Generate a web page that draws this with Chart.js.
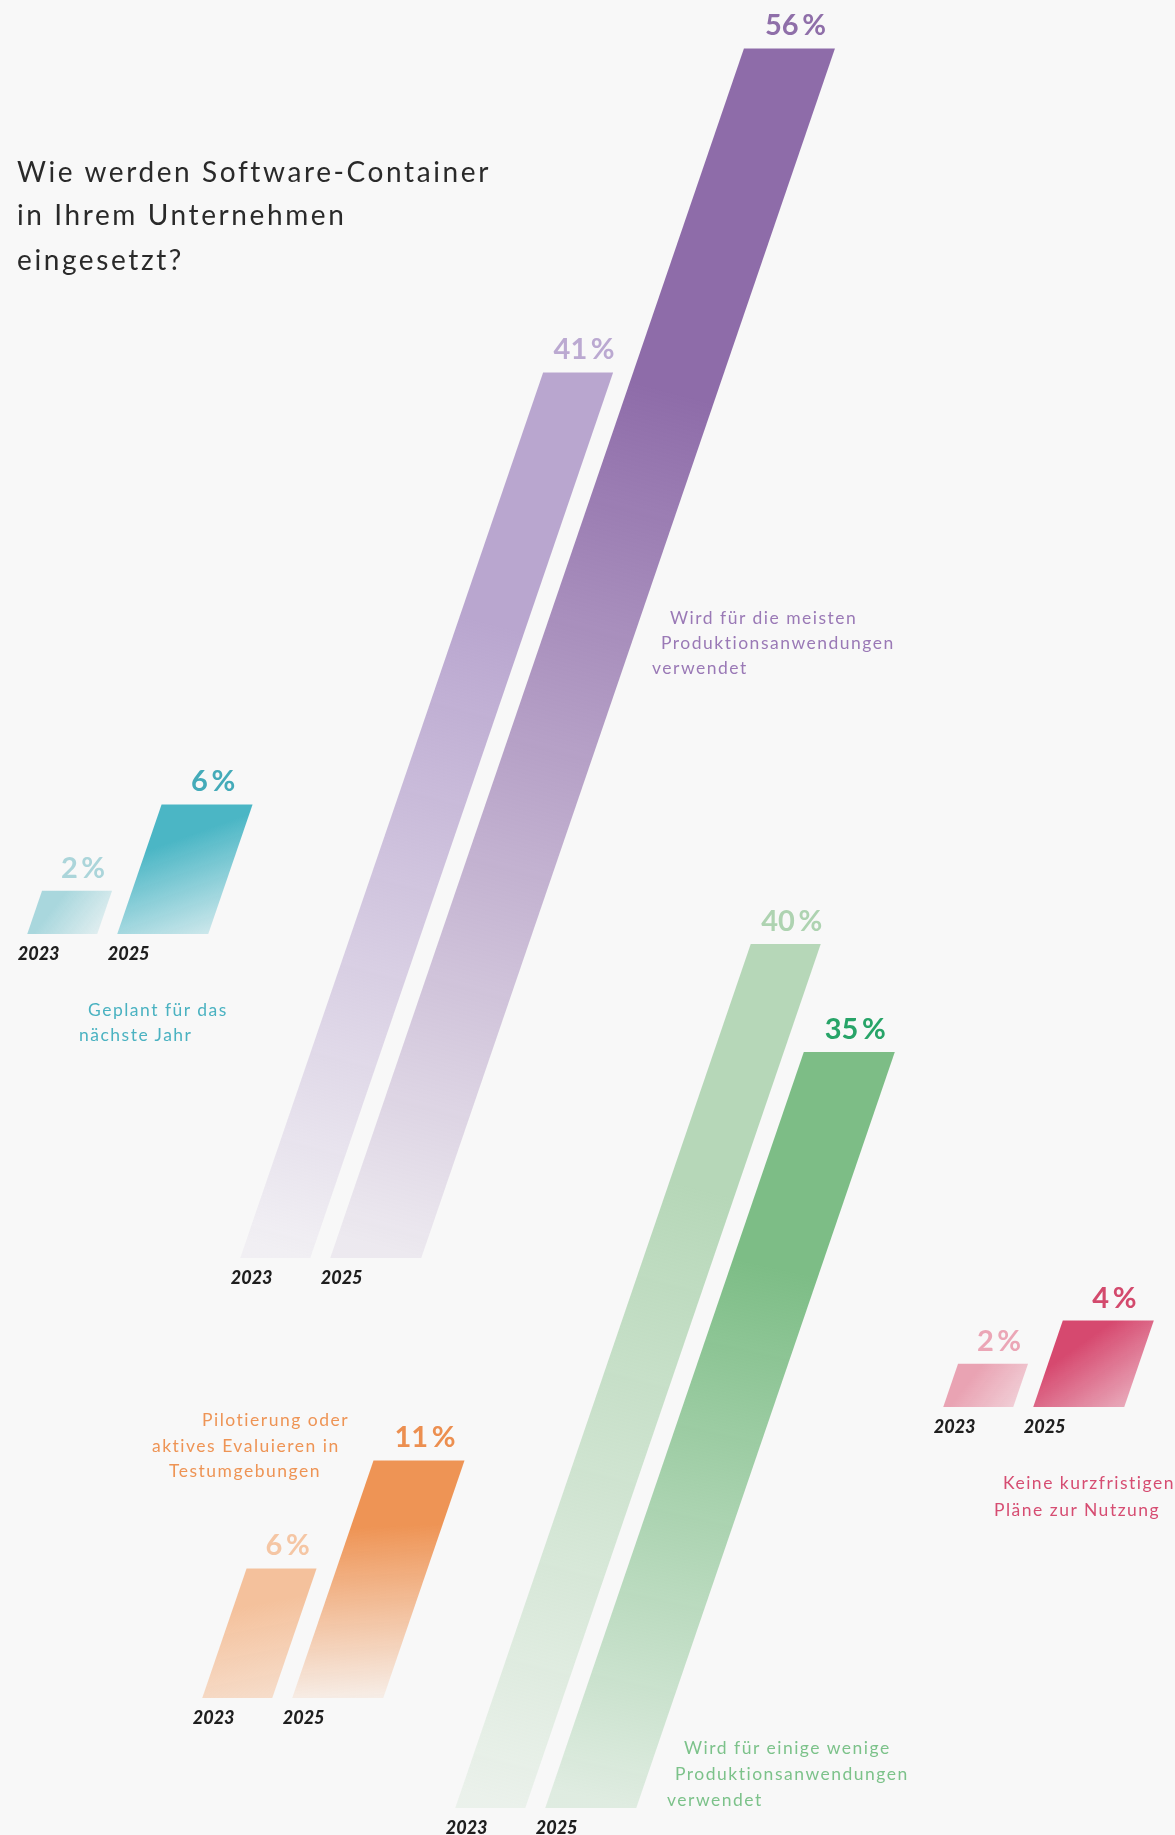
<!DOCTYPE html>
<html lang="de">
<head>
<meta charset="utf-8">
<title>Software-Container im Unternehmen</title>
<script src="https://cdn.jsdelivr.net/npm/chart.js@4.4.1/dist/chart.umd.min.js"></script>
<style>
  html, body { margin: 0; padding: 0; background: #f8f8f8; }
  #seite { position: relative; width: 1175px; height: 1835px; overflow: hidden; font-family: Lato, sans-serif; }
  #seite canvas { position: absolute; }
  .zeile { position: absolute; white-space: nowrap; line-height: 1; }
  .titel { font-size: 28px; letter-spacing: 2.6px; color: #2a2a2a; }
  .text { font-size: 17.5px; letter-spacing: 1.5px; }
</style>
</head>
<body>
<div id="seite"></div>
<script>
  'use strict';
  /*---------------------------------------------*\
       Données
  \*---------------------------------------------*/
  var titel = ['Wie werden Software-Container', 'in Ihrem Unternehmen', 'eingesetzt?'];
  var jahre = ['2023', '2025'];
  var gruppen = ['meisten', 'geplant', 'einige', 'keine', 'pilot'];
  var anteil2023 = [41, 2, 40, 2, 6];
  var anteil2025 = [56, 6, 35, 4, 11];
  var beschriftungen = [
    ['Wird für die meisten', 'Produktionsanwendungen', 'verwendet'],
    ['Geplant für das', 'nächste Jahr'],
    ['Wird für einige wenige', 'Produktionsanwendungen', 'verwendet'],
    ['Keine kurzfristigen', 'Pläne zur Nutzung'],
    ['Pilotierung oder', 'aktives Evaluieren in', 'Testumgebungen']
  ];

  /*---------------------------------------------*\
       Mise en forme
  \*---------------------------------------------*/
  var SCHRAEGE = 0.342;        // décalage horizontal par pixel de hauteur
  var PX_PRO_PROZENT = 21.6;
  var BREITEN = [70, 91];      // largeur des barres 2023 / 2025
  var BEREICH = 201;           // largeur de la zone pour les deux catégories
  var PAD = { top: 60, bottom: 40, left: 30 };

  // x0 = coin bas gauche de la barre 2023, basis = ligne de base
  var stil = {
    meisten: { x0: 240, basis: 1258, farbe: ['#b9a6cf', '#8e6ca9'], zahl: ['#bba9d1', '#8f6fa9'], text: '#9a79b6', fade: [0.1, 0.1],
      zeilen: [[670, 625], [661, 650], [652, 675]] },
    geplant: { x0: 27, basis: 934, farbe: ['#a9d7dd', '#4bb6c5'], zahl: ['#abd5da', '#44abb9'], text: '#4ab2c1', fade: [0.3, 0.25],
      zeilen: [[88, 1017], [79, 1042]] },
    einige: { x0: 455, basis: 1808, farbe: ['#b6d7b8', '#7dbd86'], zahl: ['#aed3b1', '#27a468'], text: '#7cc28a', fade: [0.2, 0.2],
      zeilen: [[684, 1755], [675, 1781], [667, 1807]] },
    keine: { x0: 943, basis: 1407, farbe: ['#e9a3b3', '#d6496f'], zahl: ['#eba6b6', '#d34a6d'], text: '#d64d72', fade: [0.5, 0.45],
      zeilen: [[1003, 1490], [994, 1517]] },
    pilot: { x0: 202, basis: 1698, farbe: ['#f4c19c', '#ee9455'], zahl: ['#f5c6a4', '#ec8f50'], text: '#ee9455', fade: [0.5, 0.1],
      zeilen: [[202, 1427], [152, 1453], [169, 1478]] }
  };

  function mitAlpha(hex, a) {
    var r = parseInt(hex.substr(1, 2), 16);
    var g = parseInt(hex.substr(3, 2), 16);
    var b = parseInt(hex.substr(5, 2), 16);
    return 'rgba(' + r + ',' + g + ',' + b + ',' + a + ')';
  }

  // Plugin : dessine chaque barre en parallélogramme incliné + étiquettes
  function parallelogramme(s) {
    return {
      id: 'parallelogramme',
      afterDatasetsDraw: function(chart) {
        var ctx = chart.ctx;
        var werte = chart.data.datasets[0].data;
        chart.getDatasetMeta(0).data.forEach(function(bar, i) {
          var b = bar.getProps(['x', 'y', 'base'], true);
          var w = BREITEN[i];
          var links = b.x - w / 2;
          var versatz = (b.base - b.y) * SCHRAEGE;
          var grad = ctx.createLinearGradient(links + versatz, b.y, links + w, b.base);
          grad.addColorStop(0, s.farbe[i]);
          grad.addColorStop(0.28, s.farbe[i]);
          grad.addColorStop(1, mitAlpha(s.farbe[i], s.fade[i]));
          ctx.save();
          ctx.beginPath();
          ctx.moveTo(links, b.base);
          ctx.lineTo(links + w, b.base);
          ctx.lineTo(links + w + versatz, b.y);
          ctx.lineTo(links + versatz, b.y);
          ctx.closePath();
          ctx.fillStyle = grad;
          ctx.fill();
          // pourcentage au-dessus
          ctx.font = '700 29px Lato';
          ctx.fillStyle = s.zahl[i];
          ctx.textAlign = 'center';
          ctx.textBaseline = 'alphabetic';
          ctx.fillText(werte[i] + '\u2009%', links + versatz + w / 2 + 6, b.y - 13);
          // année en dessous
          ctx.font = 'italic 900 18px Lato';
          ctx.fillStyle = '#1e1e1e';
          ctx.textAlign = 'left';
          ctx.fillText(chart.data.labels[i], links - 9.5, b.base + 25.5);
          ctx.restore();
        });
      }
    };
  }

  var seite = document.getElementById('seite');

  // Génération des graphes
  gruppen.forEach(function(name, g) {
    var s = stil[name];
    var werte = [anteil2023[g], anteil2025[g]];
    var hoehe = Math.ceil(Math.max.apply(null, werte) * PX_PRO_PROZENT);
    var rechts = Math.ceil(hoehe * SCHRAEGE) + 60;
    var canvas = document.createElement('canvas');
    canvas.width = PAD.left + BEREICH + rechts;
    canvas.height = PAD.top + hoehe + PAD.bottom;
    canvas.style.left = Math.round(s.x0 - (BEREICH / 4 - BREITEN[0] / 2) - PAD.left) + 'px';
    canvas.style.top = Math.round(s.basis - hoehe - PAD.top) + 'px';
    seite.appendChild(canvas);
    new Chart(canvas, {
      type: 'bar',
      data: {
        labels: jahre,
        datasets: [{ data: werte, backgroundColor: 'rgba(0,0,0,0)', borderWidth: 0 }]
      },
      options: {
        responsive: false,
        animation: false,
        devicePixelRatio: 1,
        events: [],
        layout: { padding: { top: PAD.top, bottom: PAD.bottom, left: PAD.left, right: rechts } },
        scales: {
          x: { display: false },
          y: { display: false, min: 0, max: hoehe / PX_PRO_PROZENT }
        },
        plugins: { legend: { display: false }, tooltip: { enabled: false } }
      },
      plugins: [parallelogramme(s)]
    });

    // texte descriptif
    beschriftungen[g].forEach(function(t, k) {
      var d = document.createElement('div');
      d.className = 'zeile text';
      d.textContent = t;
      d.style.color = s.text;
      d.style.left = s.zeilen[k][0] + 'px';
      d.style.top = (s.zeilen[k][1] - 0.887 * 17.5) + 'px';
      seite.appendChild(d);
    });
  });

  // titre
  var titelBasis = [182, 225, 270];
  titel.forEach(function(t, k) {
    var d = document.createElement('div');
    d.className = 'zeile titel';
    d.textContent = t;
    d.style.left = '17px';
    d.style.top = (titelBasis[k] - 0.887 * 28) + 'px';
    seite.appendChild(d);
  });
</script>
</body>
</html>
